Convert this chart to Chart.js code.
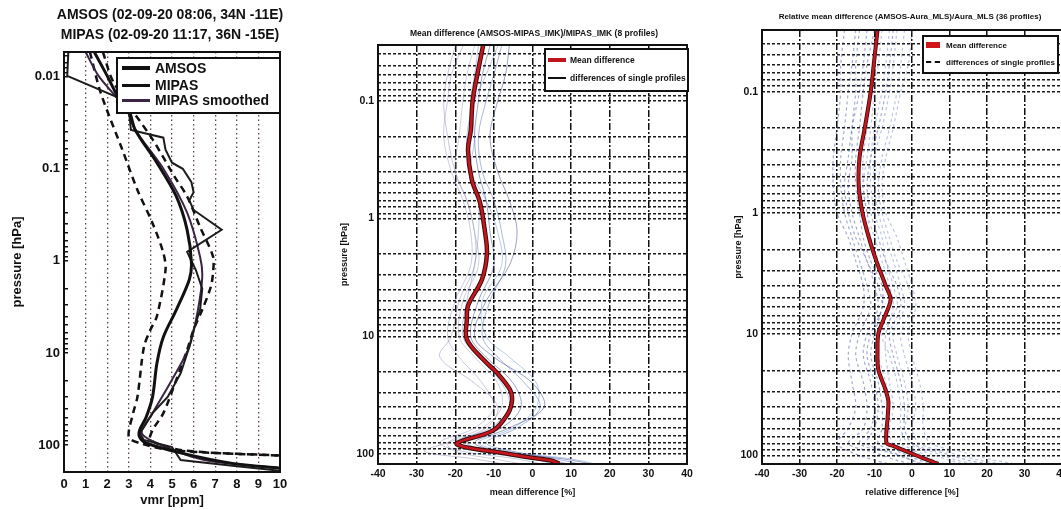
<!DOCTYPE html>
<html>
<head>
<meta charset="utf-8">
<script src="https://cdn.jsdelivr.net/npm/chart.js@4.4.0/dist/chart.umd.min.js"></script>
<style>
  html, body { margin:0; padding:0; background:#fff; width:1061px; height:510px; overflow:hidden; }
  canvas { position:absolute; top:0; }
  .ttl { position:absolute; font-family:"Liberation Sans", Arial, sans-serif; font-weight:bold; color:#111; white-space:nowrap; transform:translate(-50%,-50%); }
  .legend { position:absolute; background:#fff; border:2px solid #111; box-sizing:border-box; font-family:"Liberation Sans", Arial, sans-serif; font-weight:bold; color:#111; }
  .row { position:absolute; left:0; white-space:nowrap; display:flex; align-items:center; }
  .sample { display:inline-block; }
</style>
</head>
<body>

<canvas id="vmrChart" width="300" height="510" style="left:0px"></canvas>
<canvas id="mipasDiffChart" width="370" height="510" style="left:330px"></canvas>
<canvas id="mlsDiffChart" width="355" height="510" style="left:720px"></canvas>

<div class="ttl" style="left:170px;top:14px;font-size:14px">AMSOS (02-09-20 08:06, 34N -11E)</div>
<div class="ttl" style="left:170px;top:34px;font-size:14px">MIPAS (02-09-20 11:17, 36N -15E)</div>
<div class="ttl" style="left:534px;top:33px;font-size:8.5px">Mean difference (AMSOS-MIPAS_IMK)/MIPAS_IMK (8 profiles)</div>
<div class="ttl" style="left:910px;top:16px;font-size:8px">Relative mean difference (AMSOS-Aura_MLS)/Aura_MLS (36 profiles)</div>

<div class="legend" style="left:116px;top:57px;width:165px;height:57px;font-size:14px">
  <div class="row" style="top:1px;height:16px"><span class="sample" style="width:28px;border-top:4px solid #111;margin:0 5px 0 4px"></span>AMSOS</div>
  <div class="row" style="top:18px;height:16px"><span class="sample" style="width:28px;border-top:3px solid #111;margin:0 5px 0 4px"></span>MIPAS</div>
  <div class="row" style="top:33px;height:16px"><span class="sample" style="width:28px;border-top:3px solid #3c2444;margin:0 5px 0 4px"></span>MIPAS smoothed</div>
</div>

<div class="legend" style="left:544px;top:48px;width:145px;height:44px;font-size:8.5px">
  <div class="row" style="top:4px;height:12px"><span class="sample" style="width:18px;border-top:4px solid #c0141c;margin:0 4px 0 2px"></span>Mean difference</div>
  <div class="row" style="top:22px;height:12px"><span class="sample" style="width:18px;border-top:2px solid #111;margin:0 4px 0 2px"></span>differences of single profiles</div>
</div>

<div class="legend" style="left:922px;top:35px;width:137px;height:39px;font-size:8px">
  <div class="row" style="top:2px;height:12px"><span class="sample" style="width:14px;height:6px;background:#d0141c;margin:0 6px 0 2px"></span>Mean difference</div>
  <div class="row" style="top:19px;height:12px"><span class="sample" style="width:14px;border-top:2px dashed #111;margin:0 6px 0 2px"></span>differences of single profiles</div>
</div>

<script>
// ===================
// Data
// ===================

// left panel: vmr [ppm] on pressure levels [hPa]
const amsosPressure = [0.0054, 0.0098, 0.0165, 0.023, 0.038, 0.086, 0.2, 0.46, 1.05, 1.6, 3.4, 6.7, 13, 30, 50, 69, 82, 95, 123, 158, 178];
const amsosVmr      = [1.4, 2.0, 2.5, 3.0, 3.3, 4.3, 5.2, 5.7, 5.9, 5.8, 5.2, 4.6, 4.3, 4.1, 3.8, 3.5, 3.5, 3.8, 5.5, 7.8, 10];

const amsosLowPressure = [0.0054, 0.015, 0.062, 0.17, 0.39, 0.82, 1.25, 4.0, 5.6, 8.6, 30, 45, 82, 95, 114, 130];
const amsosLowVmr      = [1.2, 1.7, 2.7, 3.4, 4.1, 4.6, 4.7, 4.3, 4.0, 3.7, 3.4, 3.2, 3.0, 3.5, 5.0, 10];

const amsosHighPressure = [0.0054, 0.0116, 0.048, 0.12, 0.2, 0.43, 0.9, 1.34, 1.9, 3.4, 5.6, 9.3, 19.5, 45, 69, 88, 114, 130];
const amsosHighVmr      = [1.8, 2.3, 4.1, 5.1, 5.7, 6.3, 6.9, 6.9, 6.8, 6.4, 6.0, 5.7, 5.2, 4.6, 4.1, 4.0, 5.5, 10];

const mipasPressure = [0.0054, 0.0098, 0.0165, 0.023, 0.038, 0.046, 0.062, 0.086, 0.1, 0.14, 0.18, 0.22, 0.28, 0.46, 0.8, 1.25, 2.0, 3.4, 5.6, 8.6, 16.6, 30, 45, 64, 74, 88, 105, 145, 168, 190];
const mipasVmr      = [0.2, 0.15, 2.4, 3.0, 3.1, 4.6, 4.7, 5.0, 5.5, 5.9, 6.0, 5.8, 6.0, 7.3, 5.7, 6.1, 6.4, 6.3, 6.0, 5.8, 5.4, 4.8, 4.1, 3.7, 3.5, 3.7, 5.0, 5.4, 7.8, 10];

const mipasSmoothPressure = [0.0054, 0.0098, 0.023, 0.038, 0.1, 0.3, 0.9, 1.5, 3.4, 8.6, 19.5, 45, 74, 100, 145, 178];
const mipasSmoothVmr      = [1.0, 1.6, 2.9, 3.3, 4.6, 5.7, 6.3, 6.4, 6.2, 5.8, 5.0, 4.1, 3.6, 4.5, 6.5, 10];

const vmrTicks = [0, 1, 2, 3, 4, 5, 6, 7, 8, 9, 10];
const pressureDecades = [0.01, 0.1, 1, 10, 100];
const pressureTickLabels = ['0.01', '0.1', '1', '10', '100'];
const diffTicks = [-40, -30, -20, -10, 0, 10, 20, 30, 40];

// middle panel: difference to MIPAS [%]
const mipasMeanPressure = [0.034, 0.06, 0.1, 0.18, 0.26, 0.47, 0.73, 1.3, 2.0, 3.3, 5.5, 7.2, 10.6, 15.7, 20.4, 28.5, 35, 45, 63, 81, 88, 97, 107, 113, 121];
const mipasMeanDiff     = [-12.8, -14.3, -15.5, -16, -16.7, -15.7, -13.6, -12.3, -11.8, -13.1, -16.7, -17, -17, -12.8, -9.2, -5.8, -5.3, -6.3, -10.2, -19.6, -17, -8.4, -0.6, 4.5, 7];

const mipasSinglePressure = [0.034, 0.06, 0.1, 0.2, 0.4, 0.7, 1.3, 2.5, 5, 10, 15, 25, 40, 60, 80, 95, 110, 121];
const mipasSingle1 = [-8, -10, -12, -14, -13, -10, -8, -7, -11, -13, -9, -2, 2, -4, -12, -5, 6, 12];
const mipasSingle2 = [-18, -21, -22, -23, -21, -18, -16, -16, -20, -22, -19, -13, -10, -15, -24, -18, -4, 2];
const mipasSingle3 = [-6, -7, -9, -11, -9, -6, -4, -6, -12, -15, -10, 0, 3, -6, -15, -8, 8, 15];
const mipasSingle4 = [-15, -17, -18, -19, -20, -17, -15, -14, -18, -19, -15, -9, -8, -13, -22, -20, -10, -3];
const mipasSingle5 = [-14, -15, -16, -15, -16, -14, -14, -15, -17, -18, -14, -8, -6, -11, -20, -14, 0, 5];
const mipasSingle6 = [-11, -13, -14, -15, -14, -12, -11, -10, -14, -16, -12, -5, -3, -8, -17, -10, 3, 9];
const mipasSingle7 = [-20, -22, -23, -22, -20, -17, -15, -15, -19, -21, -24, -15, -9, -12, -22, -28, -15, -8];
const mipasSingle8 = [-9, -12, -15, -17, -16, -12, -9, -8, -13, -12, -6, 1, 1, -5, -14, -6, 10, 16];

// right panel: relative difference to Aura MLS [%]
const mlsMeanPressure = [0.031, 0.06, 0.1, 0.2, 0.35, 0.6, 1, 1.6, 2.5, 4, 5.2, 7.6, 10, 13.8, 19.5, 28.6, 36, 49, 79, 84, 96, 106, 118];
const mlsMeanDiff     = [-9.2, -10.2, -11, -12.6, -14, -14.2, -13.2, -11.5, -9.5, -7, -5.7, -7.6, -9, -9.2, -9, -7.1, -6.3, -6.5, -6.8, -4.9, -0.4, 3.1, 7];

const mlsSinglePressure = [0.031, 0.06, 0.1, 0.2, 0.35, 0.6, 1, 1.6, 2.5, 4, 6, 10, 15, 25, 40, 60, 80, 95, 110, 118];
const mlsSingle1  = [-4, -5, -6, -8, -10, -10, -9, -7, -5, -3, -2, -5, -4, -2, -1, -2, -3, 4, 10, 14];
const mlsSingle2  = [-15, -16, -17, -18, -19, -19, -18, -16, -14, -12, -11, -14, -15, -13, -12, -13, -17, -10, -4, 0];
const mlsSingle3  = [-2, -3, -4, -6, -8, -9, -8, -6, -4, -1, 0, -3, -2, 0, 1, 0, 2, 10, 18, 24];
const mlsSingle4  = [-12, -13, -14, -16, -17, -18, -17, -15, -12, -10, -9, -12, -13, -11, -10, -11, -14, -6, 0, 3];
const mlsSingle5  = [-8, -9, -10, -11, -12, -13, -12, -10, -8, -6, -5, -7, -7, -6, -5, -6, -5, 2, 6, 9];
const mlsSingle6  = [-18, -19, -19, -20, -21, -21, -20, -17, -15, -13, -13, -16, -17, -16, -15, -17, -20, -16, -10, -6];
const mlsSingle7  = [-6, -7, -8, -10, -11, -11, -10, -8, -7, -5, -4, -8, -6, -4, -3, -3, -1, 6, 12, 17];
const mlsSingle8  = [-10, -12, -13, -14, -15, -15, -14, -13, -11, -8, -8, -10, -11, -9, -8, -8, -9, -3, 2, 5];
const mlsSingle9  = [0, -1, -3, -5, -7, -8, -7, -4, -2, 0, 1, -1, 0, 2, 3, 3, 5, 14, 22, 28];
const mlsSingle10 = [-14, -15, -15, -16, -16, -17, -16, -14, -12, -9, -8, -11, -12, -10, -9, -10, -12, -5, 0, 2];
const mlsSingle11 = [-9, -10, -11, -12, -13, -13, -12, -11, -9, -7, -6, -9, -9, -7, -6, -7, -7, 1, 5, 8];
const mlsSingle12 = [-5, -6, -7, -9, -11, -12, -11, -9, -7, -4, -3, -6, -5, -3, -2, -2, 0, 8, 15, 20];


// ===================
// Helpers
// ===================

const FONT = '"Liberation Sans", Arial, sans-serif';

function profile(pressure, values) {
	return values.map((v, i) => ({ x: v, y: pressure[i] }));
}

// log grid: 1..9 times every decade inside [min, max]
function logTicks(min, max) {
	const out = [];
	for (let e = -3; e <= 2; e++) {
		for (let m = 1; m <= 9; m++) {
			const v = parseFloat((m * Math.pow(10, e)).toPrecision(6));
			if (v >= min && v <= max) out.push({ value: v });
		}
	}
	return out;
}

function pressureLabel(v) {
	const i = pressureDecades.findIndex(d => Math.abs(d - v) / d < 1e-6);
	return i < 0 ? '' : pressureTickLabels[i];
}

const framePlugin = {
	id: 'frame',
	afterDraw(chart) {
		const a = chart.chartArea;
		const c = chart.ctx;
		c.save();
		c.strokeStyle = '#111';
		c.lineWidth = 2;
		c.strokeRect(a.left, a.top, a.right - a.left, a.bottom - a.top);
		c.restore();
	}
};

Chart.defaults.font.family = FONT;
Chart.defaults.color = '#111';


// ===================
// vmr profiles
// ===================

new Chart(document.getElementById('vmrChart'), {
	type: 'line',
	data: {
		datasets: [
			{ label: 'AMSOS', data: profile(amsosPressure, amsosVmr), borderColor: '#111', borderWidth: 3, tension: 0.3 },
			{ label: 'MIPAS', data: profile(mipasPressure, mipasVmr), borderColor: '#1c1c1c', borderWidth: 2 },
			{ label: 'MIPAS smoothed', data: profile(mipasSmoothPressure, mipasSmoothVmr), borderColor: '#3c2444', borderWidth: 2, tension: 0.3 },
			{ label: 'AMSOS low', data: profile(amsosLowPressure, amsosLowVmr), borderColor: '#111', borderWidth: 2.5, borderDash: [7, 5], tension: 0.3 },
			{ label: 'AMSOS high', data: profile(amsosHighPressure, amsosHighVmr), borderColor: '#111', borderWidth: 2.5, borderDash: [7, 5], tension: 0.3 }
		]
	},
	options: {
		responsive: false,
		animation: false,
		layout: { padding: { top: 52, right: 20 } },
		elements: { point: { radius: 0 } },
		plugins: { legend: { display: false }, tooltip: { enabled: false } },
		scales: {
			x: {
				type: 'linear', min: 0, max: 10,
				afterBuildTicks: s => { s.ticks = vmrTicks.map(v => ({ value: v })); },
				afterFit: s => { s.height = 38; },
				grid: { color: 'rgba(70,35,35,0.85)', lineWidth: 1.3, drawTicks: false },
				border: { display: false, dash: [1.5, 3] },
				ticks: { font: { size: 13, weight: 'bold' }, padding: 5, maxRotation: 0, autoSkip: false },
				title: { display: true, text: 'vmr [ppm]', font: { size: 13, weight: 'bold' }, padding: { top: 0, bottom: 2 } }
			},
			y: {
				type: 'logarithmic', reverse: true, min: 0.0054, max: 196,
				afterBuildTicks: s => { s.ticks = logTicks(0.0054, 196); },
				afterFit: s => { s.width = 64; },
				grid: { drawOnChartArea: false, drawTicks: true, tickLength: -4, color: '#111', lineWidth: 1.5 },
				border: { display: false },
				ticks: { callback: v => pressureLabel(v), font: { size: 13, weight: 'bold' }, padding: 8, autoSkip: false },
				title: { display: true, text: 'pressure [hPa]', font: { size: 13, weight: 'bold' }, padding: { top: 10 } }
			}
		}
	},
	plugins: [framePlugin]
});


// ===================
// difference to MIPAS
// ===================

const mipasColors = ['rgba(70,100,180,0.45)', 'rgba(120,130,190,0.4)', 'rgba(60,70,140,0.5)', 'rgba(150,150,180,0.45)',
	'rgba(90,120,200,0.4)', 'rgba(40,60,130,0.45)', 'rgba(130,110,170,0.4)', 'rgba(100,140,210,0.45)'];
const mipasSingles = [mipasSingle1, mipasSingle2, mipasSingle3, mipasSingle4, mipasSingle5, mipasSingle6, mipasSingle7, mipasSingle8];

new Chart(document.getElementById('mipasDiffChart'), {
	type: 'line',
	data: {
		datasets: [
			{ label: 'Mean difference', data: profile(mipasMeanPressure, mipasMeanDiff), borderColor: '#c8161e', borderWidth: 2.5, tension: 0.35 },
			{ label: 'outline', data: profile(mipasMeanPressure, mipasMeanDiff), borderColor: '#3a0c0c', borderWidth: 4.5, tension: 0.35 }
		].concat(mipasSingles.map((s, i) => ({
			label: 'differences of single profiles', data: profile(mipasSinglePressure, s),
			borderColor: mipasColors[i], borderWidth: 1, tension: 0.35
		})))
	},
	options: {
		responsive: false,
		animation: false,
		layout: { padding: { top: 45, right: 13 } },
		elements: { point: { radius: 0 } },
		plugins: { legend: { display: false }, tooltip: { enabled: false } },
		scales: {
			x: {
				type: 'linear', min: -40, max: 40,
				afterBuildTicks: s => { s.ticks = diffTicks.map(v => ({ value: v })); },
				afterFit: s => { s.height = 46; },
				grid: { color: '#111', lineWidth: 1.5, drawTicks: false },
				border: { display: false, dash: [7, 2, 2, 2] },
				ticks: { font: { size: 10.5, weight: 'bold' }, padding: 4, maxRotation: 0, autoSkip: false },
				title: { display: true, text: 'mean difference [%]', font: { size: 9, weight: 'bold' }, padding: { top: 0, bottom: 12.5 } }
			},
			y: {
				type: 'logarithmic', reverse: true, min: 0.0335, max: 121.6,
				afterBuildTicks: s => { s.ticks = logTicks(0.0335, 121.6); },
				afterFit: s => { s.width = 48; },
				grid: { color: '#1a1a1a', lineWidth: 1.4, drawTicks: false },
				border: { display: false, dash: [3, 2] },
				ticks: { callback: v => pressureLabel(v), font: { size: 10.5, weight: 'bold' }, padding: 4, autoSkip: false },
				title: { display: true, text: 'pressure [hPa]', font: { size: 9, weight: 'bold' }, padding: { top: 9.6 } }
			}
		}
	},
	plugins: [framePlugin]
});


// ===================
// difference to Aura MLS
// ===================

const mlsSingles = [mlsSingle1, mlsSingle2, mlsSingle3, mlsSingle4, mlsSingle5, mlsSingle6,
	mlsSingle7, mlsSingle8, mlsSingle9, mlsSingle10, mlsSingle11, mlsSingle12];

new Chart(document.getElementById('mlsDiffChart'), {
	type: 'line',
	data: {
		datasets: [
			{ label: 'Mean difference', data: profile(mlsMeanPressure, mlsMeanDiff), borderColor: '#c8161e', borderWidth: 2.5, tension: 0.3 },
			{ label: 'outline', data: profile(mlsMeanPressure, mlsMeanDiff), borderColor: '#2a0808', borderWidth: 4, tension: 0.3 }
		].concat(mlsSingles.map((s, i) => ({
			label: 'differences of single profiles', data: profile(mlsSinglePressure, s),
			borderColor: i % 2 ? 'rgba(50,70,160,0.45)' : 'rgba(90,110,190,0.4)', borderWidth: 1.2, borderDash: [3, 3], tension: 0.3
		})))
	},
	options: {
		responsive: false,
		animation: false,
		layout: { padding: { top: 30, right: 13 } },
		elements: { point: { radius: 0 } },
		plugins: { legend: { display: false }, tooltip: { enabled: false } },
		scales: {
			x: {
				type: 'linear', min: -40, max: 40,
				afterBuildTicks: s => { s.ticks = diffTicks.map(v => ({ value: v })); },
				afterFit: s => { s.height = 46; },
				grid: { color: '#111', lineWidth: 1.5, drawTicks: false },
				border: { display: false, dash: [7, 2, 2, 2] },
				ticks: { font: { size: 10.5, weight: 'bold' }, padding: 4, maxRotation: 0, autoSkip: false },
				title: { display: true, text: 'relative difference [%]', font: { size: 9, weight: 'bold' }, padding: { top: 0, bottom: 12.5 } }
			},
			y: {
				type: 'logarithmic', reverse: true, min: 0.031, max: 118,
				afterBuildTicks: s => { s.ticks = logTicks(0.031, 118); },
				afterFit: s => { s.width = 42; },
				grid: { color: '#1a1a1a', lineWidth: 1.4, drawTicks: false },
				border: { display: false, dash: [3, 2] },
				ticks: { callback: v => pressureLabel(v), font: { size: 10.5, weight: 'bold' }, padding: 4, autoSkip: false },
				title: { display: true, text: 'pressure [hPa]', font: { size: 9, weight: 'bold' }, padding: { top: 13.6 } }
			}
		}
	},
	plugins: [framePlugin]
});
</script>
</body>
</html>
